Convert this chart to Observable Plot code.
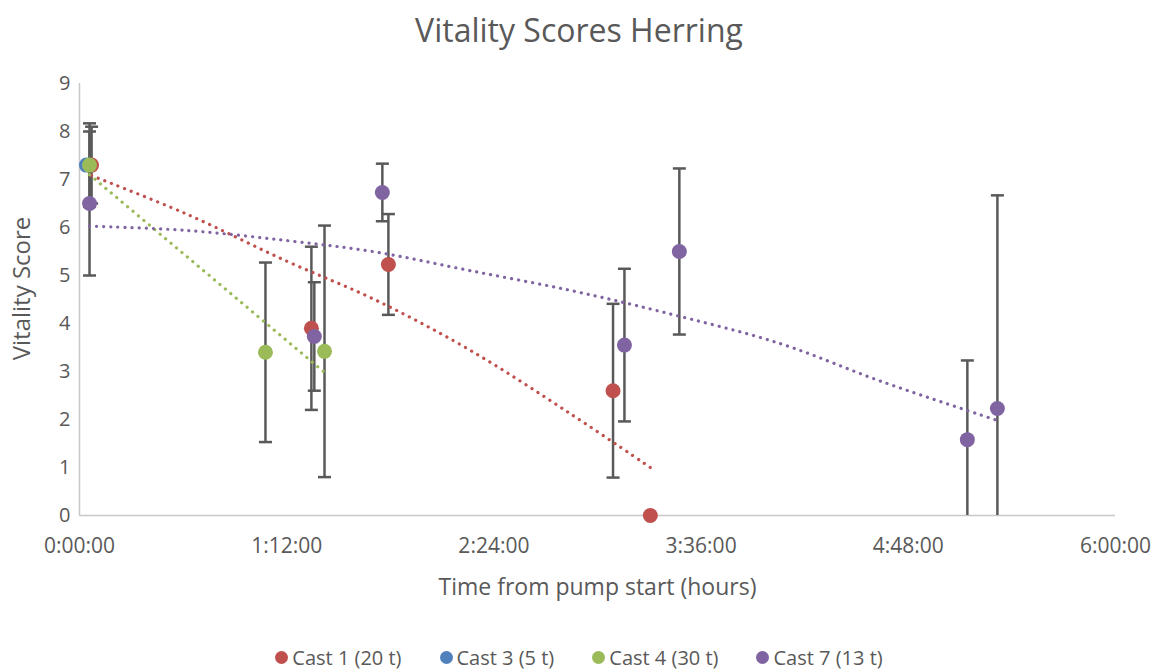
<!DOCTYPE html>
<html>
<head>
<meta charset="utf-8">
<script src="https://cdn.jsdelivr.net/npm/d3@7"></script>
<script src="https://cdn.jsdelivr.net/npm/@observablehq/plot@0.6"></script>
<style>
  html, body { margin: 0; padding: 0; background: #ffffff; }
  body { width: 1158px; height: 669px; overflow: hidden; font-family: "Open Sans", sans-serif; color: #595959; }
  #title { height: 60px; line-height: 60px; text-align: center; font-size: 32px; color: #595959; }
  #legend { display: flex; justify-content: center; align-items: center; gap: 38px; margin-top: 25px; height: 24px; font-size: 20px; color: #595959; }
  .item { display: flex; align-items: center; gap: 4px; }
  .sw { width: 13px; height: 13px; border-radius: 50%; display: inline-block; }
</style>
</head>
<body>
<div id="title">Vitality Scores Herring</div>
<div id="chart"></div>
<div id="legend"></div>
<script>
// ---- Data ----
const castNames  = ["Cast 1 (20 t)", "Cast 3 (5 t)", "Cast 4 (30 t)", "Cast 7 (13 t)"];
const castColors = ["#C0504D", "#4F81BD", "#9BBB59", "#8064A2"];

// time in hours from pump start, vitality score, error (± half-width)
const cast1Time  = [0.07, 1.343, 1.789, 3.09, 3.306];
const cast1Score = [7.3, 3.9, 5.23, 2.6, 0];
const cast1Err   = [0.8, 1.7, 1.05, 1.81, null];

const cast3Time  = [0.04];
const cast3Score = [7.3];
const cast3Err   = [null];

const cast4Time  = [0.058, 1.077, 1.419];
const cast4Score = [7.3, 3.4, 3.42];
const cast4Err   = [0.87, 1.87, 2.62];

const cast7Time  = [0.058, 1.36, 1.754, 3.156, 3.474, 5.142, 5.316];
const cast7Score = [6.5, 3.73, 6.73, 3.55, 5.5, 1.58, 2.23];
const cast7Err   = [1.5, 1.13, 0.6, 1.59, 1.73, 1.65, 4.44];

// trend lines
const trend1Time  = [0.07, 0.614, 1.193, 1.714, 2.264, 2.843, 3.306];
const trend1Score = [7.08, 6.29, 5.31, 4.49, 3.44, 2.12, 1.0];
const trend4Time  = [0.058, 1.419];
const trend4Score = [7.1, 2.98];
const trend7Time  = [0.058, 0.614, 1.193, 1.714, 2.264, 2.843, 3.364, 4.059, 4.638, 5.198, 5.316];
const trend7Score = [6.03, 5.94, 5.73, 5.49, 5.10, 4.69, 4.25, 3.58, 2.8, 2.12, 1.98];

const xTicks = [0, 1.2, 2.4, 3.6, 4.8, 6];
const yTicks = [0, 1, 2, 3, 4, 5, 6, 7, 8, 9];

// ---- Build tables ----
const series = [
  [castNames[0], cast1Time, cast1Score, cast1Err],
  [castNames[1], cast3Time, cast3Score, cast3Err],
  [castNames[2], cast4Time, cast4Score, cast4Err],
  [castNames[3], cast7Time, cast7Score, cast7Err]
];
const points = [];
for (const [cast, ts, vs, es] of series) {
  ts.forEach((t, i) => {
    const e = es[i];
    points.push({cast, t, v: vs[i], e,
      hi: e == null ? null : vs[i] + e,
      lo: e == null ? null : Math.max(0, vs[i] - e),
      loCapped: e != null && vs[i] - e >= 0});
  });
}
const errPts = points.filter(d => d.e != null);
const trends = [];
[[castNames[0], trend1Time, trend1Score], [castNames[2], trend4Time, trend4Score], [castNames[3], trend7Time, trend7Score]]
  .forEach(([cast, ts, vs]) => ts.forEach((t, i) => trends.push({cast, t, v: vs[i]})));

function fmtTime(h) {
  const total = Math.round(h * 3600);
  const hh = Math.floor(total / 3600);
  const mm = Math.floor((total % 3600) / 60);
  const ss = total % 60;
  return `${hh}:${String(mm).padStart(2, "0")}:${String(ss).padStart(2, "0")}`;
}

const capSymbol = { draw(ctx, size) { ctx.moveTo(-6.5, 0); ctx.lineTo(6.5, 0); } };
const barColor = "#595959";

const chart = Plot.plot({
  width: 1158,
  height: 560,
  marginLeft: 79,
  marginRight: 43,
  marginTop: 23,
  marginBottom: 105,
  style: { fontFamily: "'Open Sans', sans-serif", fontSize: "20px", color: "#595959", background: "#ffffff" },
  x: { domain: [0, 6] },
  y: { domain: [0, 9] },
  color: { domain: castNames, range: castColors },
  marks: [
    Plot.axisX({ ticks: xTicks, tickFormat: fmtTime, tickSize: 0, tickPadding: 23, label: null, fontSize: 21 }),
    Plot.axisY({ ticks: yTicks, tickSize: 0, tickPadding: 9, label: null, fontSize: 20 }),
    Plot.ruleX([0], { stroke: "#c8c8c8", strokeWidth: 1.5 }),
    Plot.ruleY([0], { stroke: "#c8c8c8", strokeWidth: 1.5 }),
    Plot.text(["Time from pump start (hours)"], { frameAnchor: "bottom", lineAnchor: "middle", dy: 72, fontSize: 23, fill: "#595959" }),
    Plot.text(["Vitality Score"], { frameAnchor: "left", textAnchor: "middle", lineAnchor: "middle", dx: -57, dy: -11, rotate: -90, fontSize: 24, fill: "#595959" }),
    Plot.ruleX(errPts, { x: "t", y1: "lo", y2: "hi", stroke: barColor, strokeWidth: 2.5 }),
    Plot.dot(errPts, { x: "t", y: "hi", symbol: capSymbol, fill: "none", stroke: barColor, strokeWidth: 2.5 }),
    Plot.dot(errPts.filter(d => d.loCapped), { x: "t", y: "lo", symbol: capSymbol, fill: "none", stroke: barColor, strokeWidth: 2.5 }),
    Plot.line(trends, { x: "t", y: "v", z: "cast", stroke: "cast", strokeWidth: 3.2, strokeDasharray: "0.1 7", strokeLinecap: "round", curve: "catmull-rom" }),
    Plot.dot(points, { x: "t", y: "v", fill: "cast", r: 7.5 })
  ]
});
document.getElementById("chart").appendChild(chart);

const legend = document.getElementById("legend");
castNames.forEach((name, i) => {
  const item = document.createElement("div");
  item.className = "item";
  const sw = document.createElement("span");
  sw.className = "sw";
  sw.style.background = castColors[i];
  const lab = document.createElement("span");
  lab.textContent = name;
  item.appendChild(sw);
  item.appendChild(lab);
  legend.appendChild(item);
});
</script>
</body>
</html>
